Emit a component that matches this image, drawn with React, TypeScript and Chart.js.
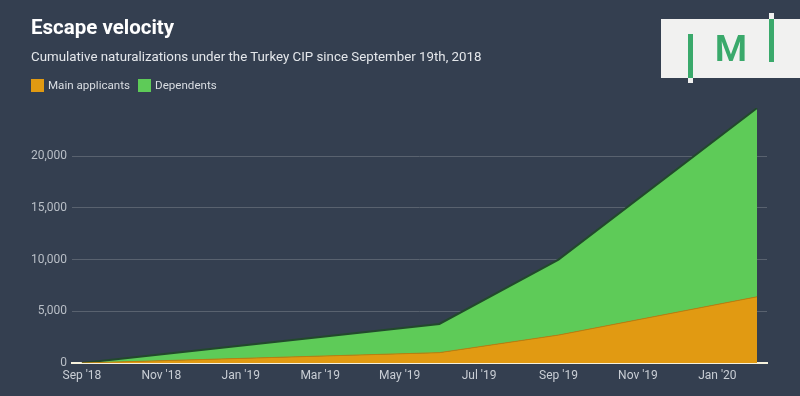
import React, { useEffect, useRef } from "react";
import { Chart, registerables } from "chart.js";

Chart.register(...registerables);

// Months since Sep 2018 (0 = Sep '18, 9 = Jun '19, 12 = Sep '19, 17 = Feb '20)
const monthIndex = [0, 9, 12, 17];
const mainApplicants = [0, 1000, 2700, 6400];
const dependents = [0, 2770, 7300, 18250];
const tickPositions = [0, 2, 4, 6, 8, 10, 12, 14, 16];
const tickLabels = ["Sep '18", "Nov '18", "Jan '19", "Mar '19", "May '19", "Jul '19", "Sep '19", "Nov '19", "Jan '20"];
const yTicks = [0, 5000, 10000, 15000, 20000];
const seriesNames = ["Main applicants", "Dependents"];

const BG = "#343f50";
const ORANGE = "#e19a12";
const GREEN = "#5ecb58";
const FONT = "Roboto, 'Noto Sans', sans-serif";

export default function App() {
  const ref = useRef<HTMLCanvasElement>(null);

  useEffect(() => {
    document.body.style.margin = "0";
    document.body.style.background = BG;
    const ctx = ref.current!.getContext("2d")!;
    const chart = new Chart(ctx, {
      type: "line",
      data: {
        datasets: [
          {
            label: seriesNames[0],
            data: monthIndex.map((m, i) => ({ x: m, y: mainApplicants[i] })),
            backgroundColor: ORANGE,
            borderColor: "#b98010",
            borderWidth: 1,
            fill: "origin",
            pointRadius: 0,
            tension: 0,
          },
          {
            label: seriesNames[1],
            data: monthIndex.map((m, i) => ({ x: m, y: dependents[i] })),
            backgroundColor: GREEN,
            borderColor: "#22492c",
            borderWidth: 2,
            fill: "-1",
            pointRadius: 0,
            tension: 0,
          },
        ],
      },
      options: {
        animation: false,
        responsive: false,
        maintainAspectRatio: false,
        layout: { padding: { left: 0, top: 108, right: 33, bottom: 0 } },
        plugins: { legend: { display: false }, tooltip: { enabled: false } },
        scales: {
          x: {
            type: "linear",
            min: -0.25,
            max: 17.25,
            afterFit: (s: any) => {
              s.height = 33;
            },
            afterBuildTicks: (s: any) => {
              s.ticks = tickPositions.map((v) => ({ value: v }));
            },
            grid: { display: false, drawTicks: false },
            border: { display: true, color: "#f6f1dc", width: 2 },
            ticks: {
              color: "#c9ced5",
              font: { family: FONT, size: 12 },
              padding: 6,
              maxRotation: 0,
              autoSkip: false,
              callback: (v: any) => {
                const i = tickPositions.indexOf(Number(v));
                return i >= 0 ? tickLabels[i] : "";
              },
            },
          },
          y: {
            stacked: true,
            min: 0,
            max: 24650,
            afterFit: (s: any) => {
              s.width = 72;
            },
            afterBuildTicks: (s: any) => {
              s.ticks = yTicks.map((v) => ({ value: v }));
            },
            grid: { color: "#59626f", lineWidth: 1, drawTicks: false },
            border: { display: false },
            ticks: {
              color: "#b9bfc7",
              font: { family: FONT, size: 12 },
              padding: 5,
              autoSkip: false,
              callback: (v: any) => Number(v).toLocaleString("en-US"),
            },
          },
        },
      },
    });
    return () => chart.destroy();
  }, []);

  return (
    <div style={{ position: "absolute", left: 0, top: 0, width: 800, height: 396, background: BG, overflow: "hidden", fontFamily: FONT }}>
      <canvas ref={ref} width={800} height={396} style={{ position: "absolute", left: 0, top: 0 }} />
      <div style={{ position: "absolute", left: 31, top: 15, color: "#ffffff", fontSize: 20.5, fontWeight: 700, lineHeight: "24px" }}>
        Escape velocity
      </div>
      <div style={{ position: "absolute", left: 31, top: 48, color: "#e4e7eb", fontSize: 13.3, lineHeight: "18px" }}>
        Cumulative naturalizations under the Turkey CIP since September 19th, 2018
      </div>
      <div style={{ position: "absolute", left: 31, top: 77, display: "flex", alignItems: "center", color: "#d9dde2", fontSize: 11.6, lineHeight: "16px" }}>
        <span style={{ width: 13, height: 13, background: ORANGE, display: "inline-block", marginRight: 4 }} />
        <span style={{ marginRight: 8 }}>{seriesNames[0]}</span>
        <span style={{ width: 13, height: 13, background: GREEN, display: "inline-block", marginRight: 4 }} />
        <span>{seriesNames[1]}</span>
      </div>
      {/* logo */}
      <div style={{ position: "absolute", left: 661, top: 19, width: 139, height: 59, background: "#f1f1f0" }} />
      <div style={{ position: "absolute", left: 688, top: 34, width: 5, height: 44, background: "#3aa96b" }} />
      <div style={{ position: "absolute", left: 688, top: 78, width: 5, height: 5, background: "#f1f1f0" }} />
      <div style={{ position: "absolute", left: 769, top: 19, width: 5, height: 43, background: "#3aa96b" }} />
      <div style={{ position: "absolute", left: 769, top: 13, width: 5, height: 6, background: "#f1f1f0" }} />
      <div style={{ position: "absolute", left: 711, top: 28, width: 40, textAlign: "center", color: "#3aa96b", fontSize: 37, fontWeight: 600, lineHeight: "42px" }}>
        M
      </div>
    </div>
  );
}
